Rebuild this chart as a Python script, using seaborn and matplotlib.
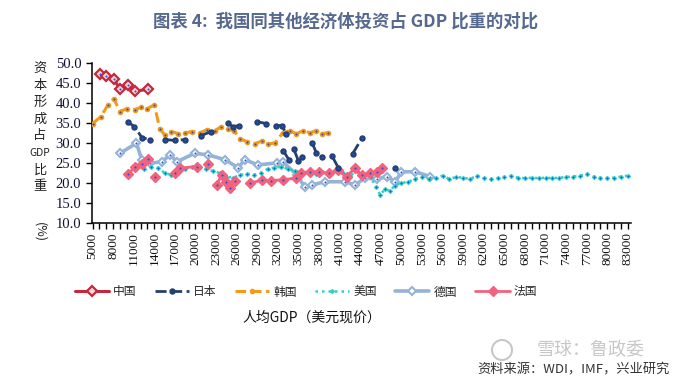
import numpy as np
import pandas as pd
import matplotlib
matplotlib.use("Agg")
import matplotlib.pyplot as plt
import seaborn as sns
from matplotlib.lines import Line2D
from matplotlib.patches import Ellipse

sns.set_theme(style="white")
plt.rcParams["font.family"] = ["Noto Sans CJK SC", "DejaVu Sans"]

# ---------------- data (x in thousand US$ per capita, y = % of GDP) ----------------
countries = ["中国", "日本", "韩国", "美国", "德国", "法国"]

china_x = [6.1, 6.9, 8.1, 9.0, 10.2, 11.2, 13.1]
china_y = [47.2, 46.6, 45.9, 43.4, 44.5, 42.9, 43.3]
china_seg = [0, 0, 0, 0, 0, 0, 0]

japan_x = [10.1, 11.1, 12.2, 13.4, 15.6, 17.0, 18.5, 20.8, 22.3, 24.7, 25.4, 26.3,
           28.9, 30.3, 31.8, 32.6, 33.2, 32.8, 33.6, 34.3, 35.0, 35.5,
           37.0, 37.6, 38.4, 39.9, 40.8, 42.9, 44.3, 49.0]
japan_y = [35.3, 34.0, 31.3, 30.8, 30.8, 30.6, 30.8, 31.8, 32.8, 35.0, 34.0, 34.3,
           35.3, 34.8, 34.3, 34.3, 32.3, 28.0, 25.8, 28.5, 25.5, 26.5,
           30.0, 27.5, 26.5, 26.7, 23.8, 27.3, 31.3, 23.8]
japan_seg = [0, 0, 0, 0, 1, 1, 1, 2, 2, 3, 3, 3,
             4, 4, 5, 5, 5, 6, 6, 7, 7, 7,
             8, 8, 8, 9, 9, 10, 10, 11]

korea_x = [5.0, 6.2, 7.2, 8.1, 9.0, 10.0, 11.2, 12.0, 13.0, 14.0, 14.8,
           15.5, 16.5, 17.5, 18.5, 19.5, 20.7, 21.7, 22.8, 23.7, 24.7, 25.6,
           26.5, 27.5, 28.7, 29.7, 30.6, 31.6, 32.7, 33.7, 34.7, 35.7, 36.7,
           37.5, 38.4, 39.3]
korea_y = [34.8, 36.5, 39.3, 41.0, 37.8, 38.5, 38.3, 38.8, 38.5, 39.5, 33.5,
           32.0, 32.8, 32.3, 32.5, 32.8, 32.5, 33.3, 33.0, 34.0, 33.5, 33.0,
           31.0, 30.3, 29.8, 30.5, 29.7, 30.0, 32.5, 33.0, 32.3, 33.0, 32.5,
           33.0, 32.3, 32.5]
korea_seg = [0] * 36

us_x = [12.5, 13.5, 14.5, 15.5, 16.5, 17.5, 18.5, 19.5, 20.5, 21.5,
        22.5, 23.5, 24.5, 25.5, 26.5, 27.5, 28.5, 29.5, 30.5, 31.5,
        32.5, 33.5, 34.5, 35.5, 36.5, 37.5, 38.5, 39.5, 40.5, 41.5,
        42.5, 43.5, 44.5, 45.5, 46.3, 46.9, 47.6, 48.3, 49.0, 50.0,
        51.0, 52.0, 53.0, 54.0, 55.0, 56.0, 57.0, 58.0, 59.0, 60.0,
        61.0, 62.0, 63.0, 64.0, 65.0, 66.0, 67.0, 68.0, 69.0, 70.0,
        71.0, 72.0, 73.0, 74.0, 75.0, 76.0, 77.0, 78.0, 79.0, 80.0,
        81.0, 82.0, 83.0]
us_y = [23.5, 24.0, 23.8, 22.5, 22.0, 22.5, 23.5, 24.0, 24.3, 23.5,
        23.0, 22.5, 21.5, 21.3, 22.0, 22.3, 22.0, 22.5, 23.5, 23.8,
        24.0, 23.5, 23.0, 22.5, 23.0, 22.3, 22.8, 22.0, 23.0, 22.5,
        21.8, 23.0, 22.0, 21.5, 19.0, 17.0, 18.5, 18.0, 19.3, 20.0,
        20.3, 21.0, 21.5, 21.0, 21.2, 21.8, 21.0, 21.5, 21.3, 21.0,
        21.8, 21.3, 21.0, 21.2, 21.5, 21.8, 21.3, 21.2, 21.3, 21.2,
        21.3, 21.2, 21.3, 21.5, 21.6, 21.8, 22.3, 21.6, 21.3, 21.2,
        21.3, 21.6, 21.8]
us_seg = [0] * 73

germany_x = [9.0, 11.4, 12.2, 13.4, 15.1, 16.3, 17.3, 19.9, 21.8, 24.3,
             26.2, 27.2, 29.1, 31.9, 32.7, 34.8, 35.9, 36.9, 38.9, 41.8,
             43.2, 44.7, 46.5, 47.9, 49.1, 50.0, 52.0, 54.2]
germany_y = [27.4, 29.9, 25.7, 24.9, 25.3, 27.0, 25.3, 27.4, 27.0, 25.8,
             23.8, 25.8, 24.5, 25.0, 25.3, 22.0, 19.0, 19.5, 20.3, 20.3,
             19.5, 21.2, 21.0, 21.6, 20.3, 22.8, 22.8, 21.6]
germany_seg = [0] * 28

france_x = [10.2, 11.2, 12.2, 13.1, 14.1, 17.0, 17.8, 20.2, 21.8,
            23.1, 23.8, 24.5, 25.0, 25.8,
            28.0, 29.7, 31.0, 32.7, 34.6, 35.4, 36.7, 38.0, 39.5, 40.7,
            42.0, 43.2, 44.2, 45.4, 46.4, 47.1]
france_y = [22.3, 24.0, 24.8, 26.0, 21.6, 22.6, 23.7, 24.1, 24.8,
            19.5, 22.0, 20.3, 18.8, 20.5,
            20.0, 20.7, 20.6, 20.8, 21.2, 22.5, 22.8, 22.8, 22.4, 23.2,
            21.6, 23.7, 22.0, 22.4, 22.8, 23.7]
france_seg = [0, 0, 0, 0, 1, 2, 2, 2, 3,
              4, 4, 4, 4, 4,
              5, 5, 5, 5, 5, 5, 5, 5, 5, 5,
              5, 5, 5, 5, 5, 5]

x_tick_values = list(range(5, 84))
x_label_step = 3
y_ticks = [10, 15, 20, 25, 30, 35, 40, 45, 50]

# ---------------- styles ----------------
styles = {
    "德国": dict(color="#95b3d7", lw=2.6, linestyle="-", marker="D", ms=4.5,
               mfc="white", mec="#95b3d7", mew=1.5),
    "美国": dict(color="#2ed1c6", lw=1.8, linestyle=(0, (1, 1.6)), marker="D", ms=2.4,
               mfc="#2ed1c6", mec="#2ed1c6", mew=0.5),
    "法国": dict(color="#f2627f", lw=2.0, linestyle="-", marker="D", ms=5.0,
               mfc="#f2627f", mec="#f2627f", mew=1.0),
    "韩国": dict(color="#f39a1b", lw=2.2, linestyle=(0, (3.5, 1.5)), marker="o", ms=3.0,
               mfc="#f39a1b", mec="#f39a1b", mew=1.0),
    "日本": dict(color="#24406e", lw=2.0, linestyle=(0, (4, 1.6)), marker="o", ms=3.6,
               mfc="#24406e", mec="#24406e", mew=1.0),
    "中国": dict(color="#c4283c", lw=2.2, linestyle="-", marker="D", ms=5.0,
               mfc="#f7d6da", mec="#c4283c", mew=1.6),
}

series = {
    "中国": (china_x, china_y, china_seg),
    "日本": (japan_x, japan_y, japan_seg),
    "韩国": (korea_x, korea_y, korea_seg),
    "美国": (us_x, us_y, us_seg),
    "德国": (germany_x, germany_y, germany_seg),
    "法国": (france_x, france_y, france_seg),
}

frames = []
for name, (xs, ys, sg) in series.items():
    frames.append(pd.DataFrame({"country": name, "x": xs, "y": ys, "seg": sg}))
df = pd.concat(frames, ignore_index=True)

# ---------------- figure ----------------
fig = plt.figure(figsize=(7.0, 3.86), dpi=100)
ax = fig.add_axes([0.131, 0.422, 0.770, 0.416])

draw_order = ["德国", "美国", "法国", "韩国", "日本", "中国"]
for i, name in enumerate(draw_order):
    sub = df[df["country"] == name]
    st = styles[name]
    sns.lineplot(data=sub, x="x", y="y", units="seg", estimator=None, sort=False,
                 ax=ax, legend=False, zorder=3 + i, **st)
    sns.scatterplot(data=sub, x="x", y="y", s=2.2, color="#2a4fd6", linewidth=0,
                    ax=ax, legend=False, zorder=3.5 + i)

ax.set_xlim(4.88, 83.4)
ax.set_ylim(10, 50)
ax.set_xlabel("")
ax.set_ylabel("")

ax.set_xticks(x_tick_values)
ax.set_xticklabels([str(v * 1000) if (v - 5) % x_label_step == 0 else "" for v in x_tick_values],
                   rotation=90, fontfamily="Liberation Serif", fontsize=9.5, color="#111111")
ax.set_yticks(y_ticks)
ax.set_yticklabels([f"{v:.1f}" for v in y_ticks], fontfamily="Liberation Serif",
                   fontsize=10.5, color="#111133")
ax.tick_params(axis="x", direction="out", length=4.5, width=1.0, color="black", pad=2,
               bottom=True)
ax.tick_params(axis="y", direction="out", length=4.5, width=1.0, color="black", pad=3,
               left=True)
for s in ["top", "right"]:
    ax.spines[s].set_visible(False)
for s in ["left", "bottom"]:
    ax.spines[s].set_color("black")
    ax.spines[s].set_linewidth(1.1)
ax.grid(False)

# ---------------- texts ----------------
fig.text(0.494, 0.945, "图表 4:  我国同其他经济体投资占 GDP 比重的对比", ha="center", va="center",
         fontsize=12.5, fontweight="bold", color="#55698f")

ylab_chars = ["资", "本", "形", "成", "占", "GDP", "比", "重"]
ylab_pos = [68, 85, 102, 119, 136, 153, 170, 187]
for ch, yp in zip(ylab_chars, ylab_pos):
    fs = 7.5 if ch == "GDP" else 9.5
    fig.text(40 / 700, 1 - yp / 386, ch, ha="center", va="center", fontsize=fs, color="#222222")
fig.text(40 / 700, 1 - 232 / 386, "(%)", ha="center", va="center", fontsize=9,
         rotation=-90, color="#222222")

handles = []
for name in countries:
    st = dict(styles[name])
    handles.append(Line2D([], [], **st))
fig.legend(handles, countries, ncol=6, loc="center", bbox_to_anchor=(0.437, 1 - 292 / 386),
           frameon=False, handlelength=2.9, handletextpad=0.35, columnspacing=1.55,
           prop={"size": 8.5})

fig.text(0.446, 1 - 318 / 386, "人均GDP（美元现价）", ha="center", va="center",
         fontsize=10, color="#111111")

fig.text(670 / 700, 1 - 370 / 386, "资料来源：WDI，IMF，兴业研究", ha="right", va="center",
         fontsize=9.5, color="#333333")

# watermark
fig.text(537 / 700, 1 - 350 / 386, "雪球：鲁政委", ha="left", va="center",
         fontsize=13, color="#b5b5b5", alpha=0.75, zorder=10)
fig.patches.append(Ellipse((502 / 700, 1 - 350 / 386), 20 / 700, 20 / 386,
                           transform=fig.transFigure, fill=False, ec="#b5b5b5",
                           lw=1.5, alpha=0.75, zorder=10))

fig.savefig("out.png", dpi=100, facecolor="white")
